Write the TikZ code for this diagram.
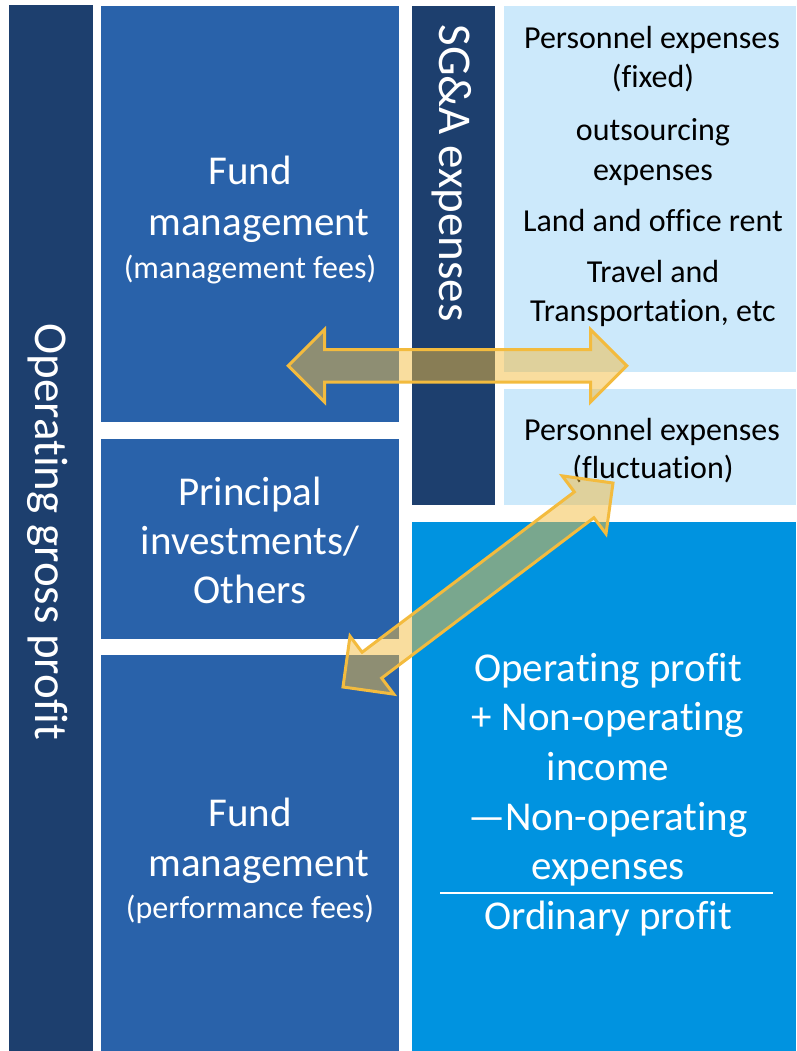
\documentclass[tikz,border=0pt]{standalone}
\usepackage{fontspec}
\setmainfont{Carlito}[Ligatures={TeX,NoCommon}]
\usetikzlibrary{calc}
\definecolor{navy}{RGB}{29,63,110}
\definecolor{midblue}{RGB}{41,98,170}
\definecolor{lightblue}{RGB}{204,233,251}
\definecolor{opblue}{RGB}{0,147,224}
\definecolor{gold}{RGB}{243,187,62}
\tikzset{
  box/.style={draw=none, inner sep=0pt, outer sep=0pt, anchor=north west},
  wt/.style={text=white, inner sep=0pt, anchor=base},
  bt/.style={text=black, inner sep=0pt, anchor=base},
  big/.style={font=\fontsize{41}{49}\selectfont},
  mid/.style={font=\fontsize{32}{39}\selectfont},
  vert/.style={text=white, inner sep=0pt, rotate=-90, font=\fontsize{47}{56}\selectfont},
  goldarrow/.style={fill=gold, fill opacity=0.5, draw=gold, line width=3pt, line join=miter},
  dbl/.pic={\path[goldarrow] (-169.2,0) -- (-133,-36.3) -- (-133,-16.2) -- (133,-16.2) -- (133,-36.3)
     -- (169.2,0) -- (133,36.3) -- (133,16.2) -- (-133,16.2) -- (-133,36.3) -- cycle;}
}
\begin{document}
\begin{tikzpicture}[x=1pt,y=-1pt]
\useasboundingbox (0,0) rectangle (796,1051);
% boxes
\node[box, fill=navy, minimum width=84pt, minimum height=1046pt] (gp) at (9,5) {};
\node[box, fill=midblue, minimum width=298pt, minimum height=416pt] (m1) at (101,6) {};
\node[box, fill=midblue, minimum width=298pt, minimum height=200pt] (m2) at (101,439) {};
\node[box, fill=midblue, minimum width=298pt, minimum height=396pt] (m3) at (101,655) {};
\node[box, fill=navy, minimum width=83pt, minimum height=499pt] (sga) at (412,6) {};
\node[box, fill=lightblue, minimum width=292pt, minimum height=366pt] (lb1) at (504,6) {};
\node[box, fill=lightblue, minimum width=292pt, minimum height=116pt] (lb2) at (504,389) {};
\node[box, fill=opblue, minimum width=384pt, minimum height=529pt] (op) at (412,522) {};
% vertical labels
\node[vert] (gpt) at (48,532) {Operating gross profit};
\node[vert] (sgat) at (452,173) {SG\&A expenses};
% middle column
\node[wt, big] (a1) at (250,185) {Fund};
\node[wt, big] (a2) at (259,235) {management};
\node[wt, mid] (a3) at (250,278) {(management fees)};
\node[wt, big] (b1) at (250,505) {Principal};
\node[wt, big] (b2) at (250,554) {investments/};
\node[wt, big] (b3) at (250,603) {Others};
\node[wt, big] (c1) at (250,826) {Fund};
\node[wt, big] (c2) at (259,876) {management};
\node[wt, mid] (c3) at (250,918) {(performance fees)};
% right light boxes
\node[bt, mid] (r1) at (652,49) {Personnel expenses};
\node[bt, mid] (r2) at (653,88) {(fixed)};
\node[bt, mid] (r3) at (653,141) {outsourcing};
\node[bt, mid] (r4) at (653,180) {expenses};
\node[bt, mid] (r5) at (653,231) {Land and office rent};
\node[bt, mid] (r6) at (653,282) {Travel and};
\node[bt, mid] (r7) at (653,321) {Transportation, etc};
\node[bt, mid] (r8) at (652,440) {Personnel expenses};
\node[bt, mid] (r9) at (653,478) {(fluctuation)};
% operating box
\node[wt, big] (o1) at (608,681) {Operating profit};
\node[wt, big] (o2) at (608,730) {+ Non-operating};
\node[wt, big] (o3) at (608,780) {income};
\node[wt, big] (o4) at (608,830) {—Non-operating};
\node[wt, big] (o5) at (608,879) {expenses};
\coordinate (la) at (440,893);
\coordinate (lb) at (773,893);
\draw[white, line width=1.5pt] (la) -- (lb);
\node[wt, big] (o6) at (608,929) {Ordinary profit};
% arrows
\coordinate (hA) at (288.3,365.8);
\coordinate (hB) at (626.7,365.8);
\coordinate (dA) at (343,687);
\coordinate (dB) at (613,483);
\pic at ($(hA)!0.5!(hB)$) {dbl};
\pic[rotate=37.07] at ($(dA)!0.5!(dB)$) {dbl};
\end{tikzpicture}
\end{document}
